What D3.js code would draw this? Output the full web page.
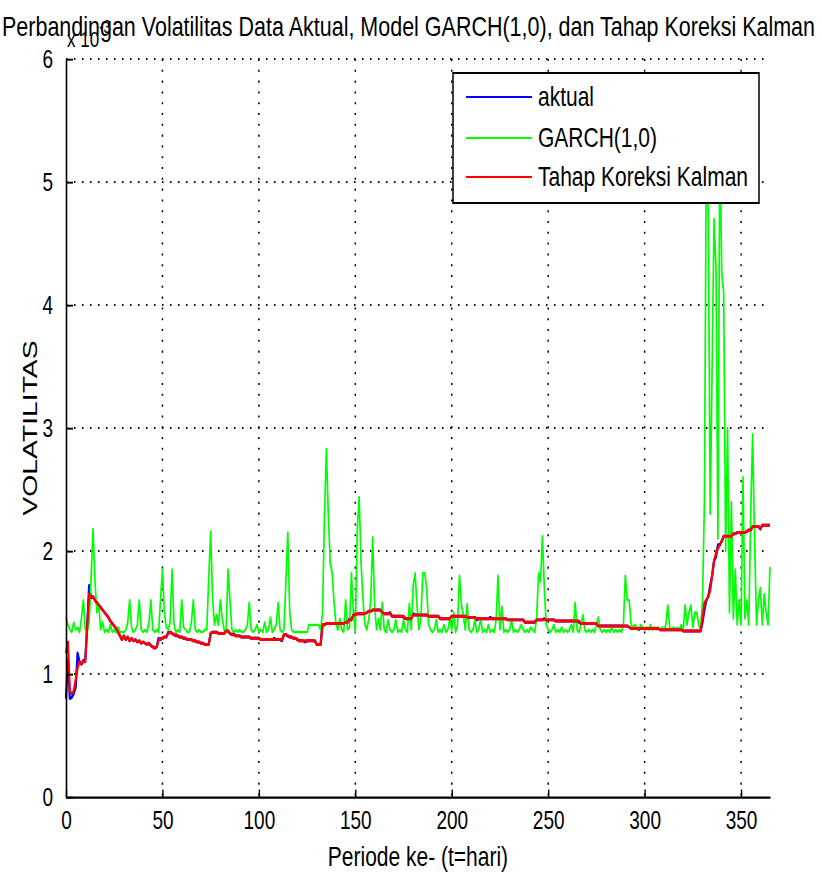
<!DOCTYPE html>
<html>
<head>
<meta charset="utf-8">
<script src="https://cdn.jsdelivr.net/npm/d3@7"></script>
<style>
  html, body { margin: 0; background: #fff; }
  svg { display: block; font-family: "Liberation Sans", Arial, sans-serif; }
</style>
</head>
<body>
<svg id="chart" width="822" height="880"></svg>
<script>
// Volatility values, units of 1e-3, one per period (index = period ke-)
const aktual = [
  0.80,1.12,0.80,0.81,0.84,0.89,1.17,1.10,1.08,1.11,
  1.12,1.40,1.72,1.62,1.63,1.60,1.58,1.56,1.54,1.52,
  1.50,1.48,1.46,1.43,1.41,1.39,1.37,1.34,1.31,1.28,
  1.31,1.28,1.30,1.27,1.29,1.27,1.28,1.26,1.27,1.25,
  1.26,1.25,1.24,1.25,1.23,1.22,1.21,1.22,1.29,1.28,
  1.29,1.30,1.30,1.34,1.34,1.33,1.32,1.31,1.31,1.30,
  1.30,1.29,1.29,1.28,1.28,1.28,1.27,1.27,1.26,1.26,
  1.25,1.25,1.24,1.24,1.24,1.33,1.34,1.34,1.34,1.33,
  1.33,1.33,1.33,1.35,1.35,1.33,1.32,1.33,1.31,1.31,
  1.31,1.30,1.30,1.30,1.30,1.30,1.29,1.29,1.29,1.29,
  1.29,1.28,1.28,1.28,1.28,1.28,1.28,1.28,1.29,1.28,
  1.28,1.28,1.27,1.32,1.32,1.31,1.30,1.30,1.29,1.29,
  1.28,1.27,1.27,1.27,1.26,1.27,1.27,1.27,1.27,1.27,
  1.24,1.24,1.24,1.40,1.40,1.41,1.41,1.41,1.41,1.41,
  1.41,1.41,1.41,1.41,1.41,1.42,1.42,1.45,1.44,1.48,
  1.49,1.49,1.49,1.49,1.49,1.49,1.50,1.51,1.51,1.52,
  1.52,1.52,1.52,1.52,1.50,1.49,1.49,1.49,1.50,1.47,
  1.47,1.47,1.47,1.47,1.47,1.46,1.45,1.45,1.45,1.45,
  1.49,1.48,1.48,1.48,1.48,1.48,1.48,1.48,1.47,1.47,
  1.47,1.47,1.47,1.47,1.45,1.45,1.45,1.45,1.45,1.45,
  1.47,1.47,1.47,1.47,1.47,1.47,1.47,1.47,1.46,1.46,
  1.46,1.46,1.46,1.44,1.45,1.45,1.45,1.45,1.45,1.45,
  1.46,1.45,1.45,1.45,1.45,1.45,1.45,1.45,1.45,1.44,
  1.44,1.44,1.44,1.44,1.44,1.44,1.44,1.44,1.42,1.42,
  1.42,1.42,1.42,1.42,1.44,1.44,1.44,1.44,1.45,1.44,
  1.44,1.44,1.44,1.44,1.43,1.43,1.43,1.43,1.43,1.43,
  1.43,1.43,1.43,1.43,1.43,1.43,1.42,1.41,1.41,1.41,
  1.41,1.41,1.41,1.41,1.41,1.41,1.39,1.39,1.39,1.39,
  1.39,1.39,1.39,1.39,1.39,1.39,1.39,1.39,1.39,1.39,
  1.39,1.39,1.38,1.37,1.37,1.37,1.37,1.36,1.37,1.37,
  1.37,1.37,1.37,1.37,1.37,1.37,1.37,1.37,1.36,1.36,
  1.36,1.36,1.36,1.36,1.36,1.36,1.36,1.36,1.36,1.36,
  1.35,1.35,1.35,1.35,1.35,1.35,1.35,1.35,1.35,1.35,
  1.42,1.52,1.60,1.63,1.72,1.80,1.92,1.95,2.05,2.05,
  2.08,2.12,2.12,2.12,2.12,2.12,2.14,2.14,2.15,2.15,
  2.15,2.15,2.15,2.16,2.17,2.17,2.20,2.20,2.20,2.20,
  2.18,2.21,2.21,2.21,2.21,2.21
];

const garch = [
  1.46,1.40,1.36,1.34,1.42,1.36,1.38,1.34,1.45,1.60,
  1.36,1.34,1.42,1.78,2.18,1.76,1.50,1.55,1.36,1.42,
  1.34,1.36,1.34,1.40,1.34,1.36,1.34,1.38,1.34,1.34,
  1.34,1.36,1.42,1.60,1.38,1.34,1.36,1.40,1.60,1.36,
  1.34,1.36,1.34,1.42,1.60,1.36,1.34,1.36,1.34,1.60,
  1.85,1.50,1.38,1.36,1.42,1.85,1.40,1.34,1.36,1.34,
  1.60,1.38,1.36,1.34,1.34,1.42,1.60,1.36,1.34,1.36,
  1.34,1.34,1.36,1.36,1.78,2.16,1.62,1.40,1.48,1.40,
  1.60,1.45,1.36,1.34,1.85,1.60,1.36,1.34,1.36,1.34,
  1.36,1.34,1.34,1.36,1.40,1.58,1.36,1.34,1.36,1.40,
  1.34,1.36,1.34,1.42,1.34,1.36,1.46,1.34,1.36,1.40,
  1.58,1.36,1.34,1.36,1.75,2.15,1.50,1.36,1.34,1.34,
  1.34,1.34,1.34,1.34,1.34,1.34,1.40,1.40,1.40,1.40,
  1.40,1.40,1.36,1.50,2.28,2.83,2.30,1.90,1.82,1.58,
  1.40,1.36,1.45,1.36,1.34,1.60,1.36,1.38,1.82,1.50,
  1.34,2.17,2.44,1.90,1.60,1.40,1.36,1.45,1.60,2.11,
  1.56,1.36,1.45,1.36,1.58,1.36,1.34,1.44,1.36,1.34,
  1.36,1.44,1.34,1.36,1.34,1.44,1.36,1.34,1.57,1.36,
  1.72,1.82,1.55,1.36,1.45,1.82,1.82,1.70,1.40,1.36,
  1.34,1.36,1.44,1.34,1.36,1.34,1.40,1.34,1.36,1.45,
  1.36,1.50,1.34,1.40,1.80,1.57,1.48,1.36,1.57,1.36,
  1.34,1.36,1.44,1.34,1.36,1.45,1.34,1.36,1.34,1.40,
  1.34,1.36,1.34,1.44,1.80,1.36,1.55,1.34,1.36,1.34,
  1.36,1.44,1.34,1.36,1.34,1.36,1.40,1.36,1.34,1.36,
  1.34,1.38,1.36,1.34,1.45,1.82,1.75,2.12,1.70,1.40,
  1.36,1.34,1.36,1.40,1.34,1.36,1.34,1.38,1.34,1.36,
  1.34,1.36,1.40,1.34,1.58,1.36,1.34,1.40,1.48,1.36,
  1.34,1.36,1.34,1.36,1.34,1.40,1.46,1.36,1.34,1.36,
  1.34,1.36,1.34,1.38,1.34,1.36,1.34,1.36,1.34,1.40,
  1.80,1.60,1.60,1.40,1.38,1.40,1.38,1.36,1.40,1.38,
  1.36,1.38,1.36,1.40,1.36,1.38,1.36,1.38,1.36,1.38,
  1.36,1.40,1.56,1.38,1.36,1.38,1.36,1.38,1.36,1.40,
  1.36,1.56,1.40,1.50,1.56,1.38,1.50,1.50,1.40,1.36,
  1.60,2.40,5.30,4.75,2.30,3.50,4.70,4.30,2.10,5.40,
  4.25,4.10,2.00,3.00,1.50,2.40,1.45,1.85,1.40,1.60,
  1.40,2.60,1.45,1.60,1.40,2.30,2.95,2.10,1.40,1.60,
  1.70,1.40,1.65,1.50,1.40,1.87
];

const kalman = [
  1.17,1.26,0.86,0.84,0.86,0.95,1.05,1.10,1.08,1.10,
  1.10,1.38,1.65,1.62,1.63,1.60,1.58,1.56,1.54,1.52,
  1.50,1.48,1.46,1.43,1.41,1.39,1.37,1.34,1.31,1.28,
  1.31,1.28,1.30,1.27,1.29,1.27,1.28,1.26,1.27,1.25,
  1.26,1.25,1.24,1.25,1.23,1.22,1.21,1.22,1.27,1.29,
  1.29,1.30,1.30,1.33,1.34,1.33,1.32,1.32,1.31,1.30,
  1.30,1.29,1.29,1.28,1.28,1.28,1.27,1.27,1.26,1.26,
  1.25,1.25,1.24,1.24,1.24,1.33,1.34,1.34,1.34,1.33,
  1.33,1.33,1.33,1.35,1.35,1.33,1.32,1.32,1.31,1.31,
  1.31,1.30,1.30,1.30,1.30,1.30,1.29,1.29,1.29,1.29,
  1.29,1.28,1.28,1.28,1.28,1.28,1.28,1.28,1.28,1.28,
  1.28,1.28,1.28,1.32,1.32,1.31,1.30,1.30,1.29,1.29,
  1.28,1.27,1.27,1.27,1.27,1.27,1.27,1.27,1.27,1.27,
  1.24,1.24,1.24,1.40,1.40,1.41,1.41,1.41,1.41,1.41,
  1.41,1.41,1.41,1.41,1.41,1.42,1.42,1.44,1.44,1.48,
  1.48,1.49,1.49,1.49,1.49,1.49,1.50,1.51,1.51,1.52,
  1.52,1.52,1.52,1.52,1.50,1.49,1.49,1.49,1.49,1.47,
  1.47,1.47,1.47,1.47,1.47,1.47,1.45,1.45,1.45,1.45,
  1.48,1.48,1.48,1.48,1.48,1.48,1.48,1.48,1.47,1.47,
  1.47,1.47,1.47,1.47,1.45,1.45,1.45,1.45,1.45,1.45,
  1.47,1.47,1.47,1.47,1.47,1.47,1.47,1.47,1.46,1.46,
  1.46,1.46,1.46,1.45,1.45,1.45,1.45,1.45,1.45,1.45,
  1.45,1.45,1.45,1.45,1.45,1.45,1.45,1.45,1.45,1.44,
  1.44,1.44,1.44,1.44,1.44,1.44,1.44,1.44,1.42,1.42,
  1.42,1.42,1.42,1.42,1.44,1.44,1.44,1.44,1.44,1.44,
  1.44,1.44,1.44,1.44,1.43,1.43,1.43,1.43,1.43,1.43,
  1.43,1.43,1.43,1.43,1.43,1.43,1.43,1.41,1.41,1.41,
  1.41,1.41,1.41,1.41,1.41,1.41,1.39,1.39,1.39,1.39,
  1.39,1.39,1.39,1.39,1.39,1.39,1.39,1.39,1.39,1.39,
  1.39,1.39,1.38,1.37,1.37,1.37,1.37,1.37,1.37,1.37,
  1.37,1.37,1.37,1.37,1.37,1.37,1.37,1.37,1.36,1.36,
  1.36,1.36,1.36,1.36,1.36,1.36,1.36,1.36,1.36,1.36,
  1.35,1.35,1.35,1.35,1.35,1.35,1.35,1.35,1.35,1.35,
  1.45,1.58,1.60,1.63,1.68,1.80,1.92,1.98,2.02,2.05,
  2.08,2.12,2.12,2.12,2.12,2.12,2.14,2.14,2.15,2.15,
  2.15,2.15,2.15,2.16,2.17,2.17,2.20,2.20,2.20,2.20,
  2.18,2.21,2.21,2.21,2.21,2.21
];

const xTicks = [0, 50, 100, 150, 200, 250, 300, 350];
const yTicks = [0, 1, 2, 3, 4, 5, 6];
const seriesNames = ['aktual', 'GARCH(1,0)', 'Tahap Koreksi Kalman'];
const seriesColors = ['#0000ff', '#00ff00', '#ff0000'];

// The reference figure is stretched vertically, so everything is drawn
// in an unstretched space and scaled by SY.
const SY = 1.35;
const m = { left: 66, right: 770, top: 59 / SY, bottom: 797 / SY };

const svg = d3.select('#chart');
const root = svg.append('g').attr('transform', `scale(1,${SY})`);

const x = d3.scaleLinear().domain([0, 365]).range([m.left, m.right]);
const y = d3.scaleLinear().domain([0, 6]).range([m.bottom, m.top]);

// Dotted grid
const grid = root.append('g')
  .attr('stroke', '#000')
  .attr('stroke-width', 1.5)
  .attr('stroke-dasharray', '1.5,6.5');
grid.selectAll('line.h')
  .data(yTicks.filter((d) => d > 0))
  .join('line')
  .attr('class', 'h')
  .attr('x1', m.left).attr('x2', m.right)
  .attr('y1', (d) => y(d)).attr('y2', (d) => y(d));
grid.selectAll('line.v')
  .data(xTicks.filter((d) => d > 0))
  .join('line')
  .attr('class', 'v')
  .attr('x1', (d) => x(d)).attr('x2', (d) => x(d))
  .attr('y1', m.top).attr('y2', m.bottom);

// Series (blue under green under red, like the plot order)
const line = d3.line()
  .x((d, i) => x(i))
  .y((d) => y(d));

const plot = root.append('g').attr('fill', 'none').attr('stroke-linejoin', 'round');
plot.append('path').datum(aktual).attr('d', line)
  .attr('stroke', seriesColors[0]).attr('stroke-width', 2.2);
plot.append('path').datum(garch).attr('d', line)
  .attr('stroke', seriesColors[1]).attr('stroke-width', 1.7);
plot.append('path').datum(kalman).attr('d', line)
  .attr('stroke', seriesColors[2]).attr('stroke-width', 2.2);

// Axes, ticks pointing inward
const xAxis = d3.axisBottom(x)
  .tickValues(xTicks)
  .tickFormat(d3.format('d'))
  .tickSizeInner(-5.5)
  .tickSizeOuter(0)
  .tickPadding(10);
const gx = root.append('g')
  .attr('transform', `translate(0,${m.bottom})`)
  .call(xAxis)
  .attr('font-family', null)
  .attr('font-size', 19);
gx.select('.domain').attr('stroke-width', 1.6);
gx.selectAll('.tick line').attr('stroke-width', 1.4);
gx.selectAll('.tick text').attr('fill', '#000');

const yAxis = d3.axisLeft(y)
  .tickValues(yTicks)
  .tickFormat(d3.format('d'))
  .tickSizeInner(-7)
  .tickSizeOuter(0)
  .tickPadding(13);
const gy = root.append('g')
  .attr('transform', `translate(${m.left},0)`)
  .call(yAxis)
  .attr('font-family', null)
  .attr('font-size', 19);
gy.select('.domain').attr('stroke-width', 1.6);
gy.selectAll('.tick line').attr('stroke-width', 1.4);
gy.selectAll('.tick text').attr('fill', '#000');

// Exponent label (overlaps the title, as in the original figure)
const expo = root.append('text')
  .attr('x', 67)
  .attr('y', 47 / SY)
  .attr('font-size', 17)
  .attr('fill', '#000');
expo.append('tspan').text('x 10');
expo.append('tspan')
  .attr('font-size', 13)
  .attr('dy', -14 / SY)
  .text('-3');

// Title and axis titles
root.append('text')
  .attr('x', 2)
  .attr('y', 36 / SY)
  .attr('font-size', 21)
  .attr('textLength', 813)
  .attr('lengthAdjust', 'spacingAndGlyphs')
  .text('Perbandingan Volatilitas Data Aktual, Model GARCH(1,0), dan Tahap Koreksi Kalman');

root.append('text')
  .attr('x', (m.left + m.right) / 2)
  .attr('y', 866 / SY)
  .attr('text-anchor', 'middle')
  .attr('font-size', 21)
  .text('Periode ke- (t=hari)');

root.append('text')
  .attr('transform', `translate(37,${428 / SY}) rotate(-90)`)
  .attr('text-anchor', 'middle')
  .attr('font-size', 21)
  .text('VOLATILITAS');

// Legend
const lg = root.append('g').attr('transform', `translate(453,${73 / SY})`);
lg.append('rect')
  .attr('width', 306)
  .attr('height', 130 / SY)
  .attr('fill', '#fff')
  .attr('stroke', '#000')
  .attr('stroke-width', 1.5);
const rowY = [24, 65, 104].map((v) => v / SY);
const entry = lg.selectAll('g.entry')
  .data(seriesNames)
  .join('g')
  .attr('class', 'entry')
  .attr('transform', (d, i) => `translate(0,${rowY[i]})`);
entry.append('line')
  .attr('x1', 13).attr('x2', 79)
  .attr('stroke', (d, i) => seriesColors[i])
  .attr('stroke-width', 1.6);
entry.append('text')
  .attr('x', 85)
  .attr('y', 7)
  .attr('font-size', 21)
  .attr('fill', '#000')
  .text((d) => d);
</script>
</body>
</html>
